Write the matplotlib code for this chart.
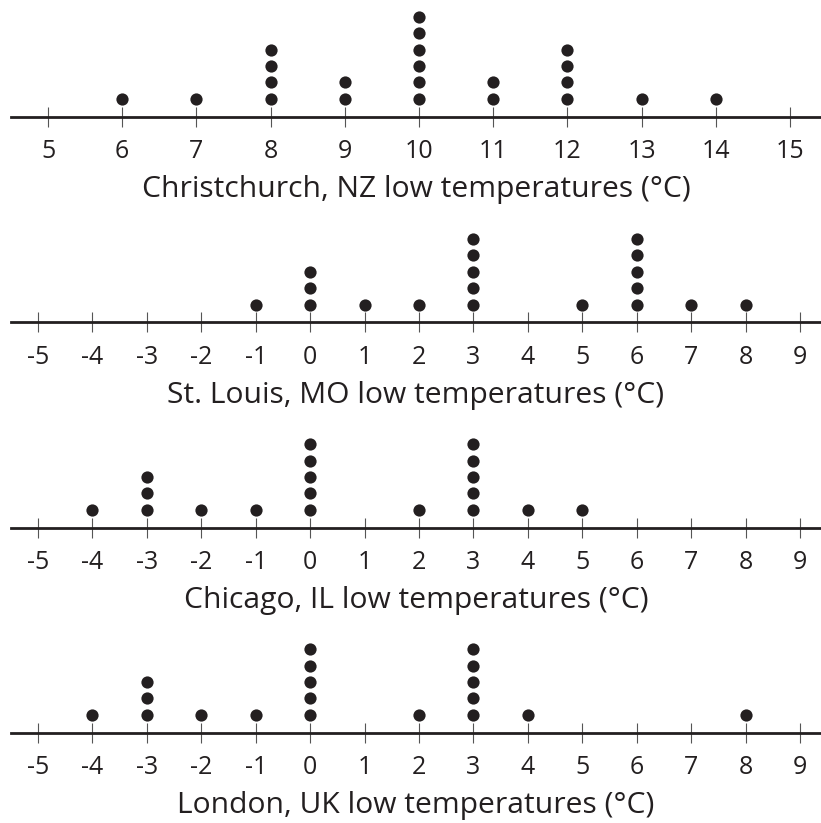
import matplotlib
matplotlib.use("Agg")
import matplotlib.pyplot as plt

plt.rcParams['font.family'] = ['Open Sans', 'DejaVu Sans']
plt.rcParams['axes.unicode_minus'] = False

INK = '#231f20'

# Data
nz_temps = [6, 7, 8, 9, 10, 11, 12, 13, 14]
nz_counts = [1, 1, 4, 2, 6, 2, 4, 1, 1]
stl_temps = [-1, 0, 1, 2, 3, 5, 6, 7, 8]
stl_counts = [1, 3, 1, 1, 5, 1, 5, 1, 1]
chi_temps = [-4, -3, -2, -1, 0, 2, 3, 4, 5]
chi_counts = [1, 3, 1, 1, 5, 1, 5, 1, 1]
lon_temps = [-4, -3, -2, -1, 0, 2, 3, 4, 8]
lon_counts = [1, 3, 1, 1, 5, 1, 5, 1, 1]

nz_ticks = list(range(5, 16))
us_ticks = list(range(-5, 10))

titles = [
    "Christchurch, NZ low temperatures (°C)",
    "St. Louis, MO low temperatures (°C)",
    "Chicago, IL low temperatures (°C)",
    "London, UK low temperatures (°C)",
]

W, H = 821, 823
fig = plt.figure(figsize=(W / 100, H / 100), dpi=100)

panels = [
    (nz_temps, nz_counts, nz_ticks, (4.501, 15.418), 116.7),
    (stl_temps, stl_counts, us_ticks, (-5.496, 9.386), 322.3),
    (chi_temps, chi_counts, us_ticks, (-5.496, 9.386), 527.7),
    (lon_temps, lon_counts, us_ticks, (-5.496, 9.386), 732.7),
]

dot_step = 16.45  # px per dot
first_off = 17.8  # px from line to first dot
ax_h_px = 110

for (temps, counts, ticks, xlim, line_y), title in zip(panels, titles):
    left_px, right_px = 11, 821
    bottom = (H - line_y) / H
    ax = fig.add_axes([left_px / W, bottom, (right_px - left_px) / W, ax_h_px / H])
    xs, ys = [], []
    for t, c in zip(temps, counts):
        for k in range(1, c + 1):
            xs.append(t)
            ys.append(k)
    ax.plot(xs, ys, 'o', color=INK, markersize=8.8, markeredgewidth=0, clip_on=False)
    ax.set_xlim(*xlim)
    ybot = 1 - first_off / dot_step
    ax.set_ylim(ybot, ybot + ax_h_px / dot_step)
    for s in ['top', 'left', 'right']:
        ax.spines[s].set_visible(False)
    ax.spines['bottom'].set_linewidth(2.0)
    ax.spines['bottom'].set_color(INK)
    ax.set_yticks([])
    ax.set_xticks(ticks)
    ax.set_xticklabels([str(t) for t in ticks])
    ax.tick_params(axis='x', direction='inout', length=14, width=0.8, color='#555555',
                   labelsize=18, labelcolor=INK, pad=9)
    ax.set_xlabel(title, fontsize=21.6, color=INK, labelpad=8)
    ax.patch.set_visible(False)

fig.savefig('out.png', dpi=100)
